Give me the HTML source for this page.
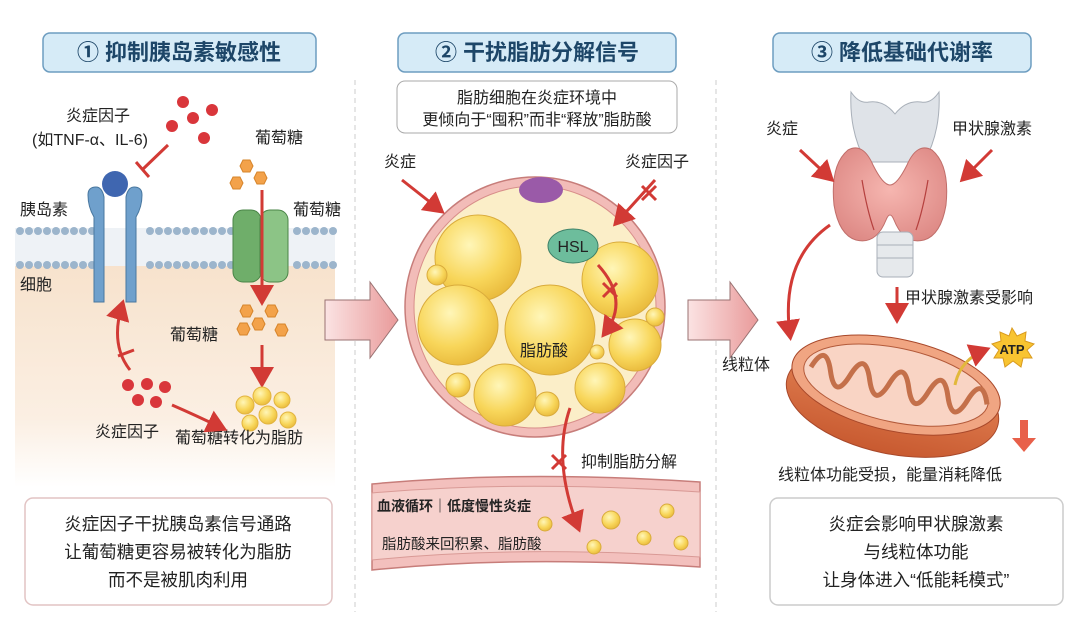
<!DOCTYPE html>
<html><head><meta charset="utf-8"><style>
html,body{margin:0;padding:0;background:#fff;}
svg{display:block;}
text{font-family:"Liberation Sans","Noto Sans CJK SC",sans-serif;fill:#222;}
.t{font-size:16px;}
.ti{font-size:22px;font-weight:bold;fill:#1d4668;}
.b{font-size:17.5px;}
</style></head><body>
<svg width="1080" height="624" viewBox="0 0 1080 624" xmlns="http://www.w3.org/2000/svg">
<defs>
<marker id="ar" markerWidth="8" markerHeight="8" refX="5" refY="4" orient="auto" markerUnits="strokeWidth"><path d="M0,0 L7,4 L0,8 Z" fill="#d23a35"/></marker>
<radialGradient id="fat" cx="0.4" cy="0.35" r="0.7"><stop offset="0" stop-color="#fff6b8"/><stop offset="0.6" stop-color="#f8d65a"/><stop offset="1" stop-color="#e8b83a"/></radialGradient>
<linearGradient id="cell" x1="0" y1="0" x2="0" y2="1"><stop offset="0" stop-color="#f7e2cc"/><stop offset="0.7" stop-color="#fbefe3"/><stop offset="1" stop-color="#ffffff"/></linearGradient>
<linearGradient id="bigar" x1="0" y1="0" x2="1" y2="0"><stop offset="0" stop-color="#fbe3e3"/><stop offset="1" stop-color="#e99a9a"/></linearGradient>
<radialGradient id="thy" cx="0.5" cy="0.45" r="0.6"><stop offset="0" stop-color="#f6b6b0"/><stop offset="1" stop-color="#de8a86"/></radialGradient>
<linearGradient id="mito" x1="0" y1="0" x2="0" y2="1"><stop offset="0" stop-color="#e88a5c"/><stop offset="1" stop-color="#c85a30"/></linearGradient>
</defs>

<line x1="355" y1="80" x2="355" y2="612" stroke="#ccc" stroke-dasharray="5,4"/>
<line x1="716" y1="80" x2="716" y2="612" stroke="#ccc" stroke-dasharray="5,4"/>

<rect x="43" y="33" width="273" height="39" rx="7" fill="#d6ebf7" stroke="#6d9dc0" stroke-width="1.5"/>
<text x="179" y="60" class="ti" text-anchor="middle">① 抑制胰岛素敏感性</text>
<rect x="398" y="33" width="278" height="39" rx="7" fill="#d6ebf7" stroke="#6d9dc0" stroke-width="1.5"/>
<text x="537" y="60" class="ti" text-anchor="middle">② 干扰脂肪分解信号</text>
<rect x="773" y="33" width="258" height="39" rx="7" fill="#d6ebf7" stroke="#6d9dc0" stroke-width="1.5"/>
<text x="902" y="60" class="ti" text-anchor="middle">③ 降低基础代谢率</text>

<!-- PANEL 1 -->
<rect x="15" y="262" width="320" height="225" fill="url(#cell)"/>
<rect x="15" y="228" width="320" height="38" fill="#eef2f6"/>
<g fill="#9cb5cc">
<circle cx="20" cy="231" r="4"/><circle cx="29" cy="231" r="4"/><circle cx="38" cy="231" r="4"/><circle cx="47" cy="231" r="4"/><circle cx="56" cy="231" r="4"/><circle cx="65" cy="231" r="4"/><circle cx="74" cy="231" r="4"/><circle cx="83" cy="231" r="4"/><circle cx="92" cy="231" r="4"/><circle cx="150" cy="231" r="4"/><circle cx="159" cy="231" r="4"/><circle cx="168" cy="231" r="4"/><circle cx="177" cy="231" r="4"/><circle cx="186" cy="231" r="4"/><circle cx="195" cy="231" r="4"/><circle cx="204" cy="231" r="4"/><circle cx="213" cy="231" r="4"/><circle cx="222" cy="231" r="4"/><circle cx="231" cy="231" r="4"/><circle cx="297" cy="231" r="4"/><circle cx="306" cy="231" r="4"/><circle cx="315" cy="231" r="4"/><circle cx="324" cy="231" r="4"/><circle cx="333" cy="231" r="4"/>
<circle cx="20" cy="265" r="4"/><circle cx="29" cy="265" r="4"/><circle cx="38" cy="265" r="4"/><circle cx="47" cy="265" r="4"/><circle cx="56" cy="265" r="4"/><circle cx="65" cy="265" r="4"/><circle cx="74" cy="265" r="4"/><circle cx="83" cy="265" r="4"/><circle cx="92" cy="265" r="4"/><circle cx="150" cy="265" r="4"/><circle cx="159" cy="265" r="4"/><circle cx="168" cy="265" r="4"/><circle cx="177" cy="265" r="4"/><circle cx="186" cy="265" r="4"/><circle cx="195" cy="265" r="4"/><circle cx="204" cy="265" r="4"/><circle cx="213" cy="265" r="4"/><circle cx="222" cy="265" r="4"/><circle cx="231" cy="265" r="4"/><circle cx="297" cy="265" r="4"/><circle cx="306" cy="265" r="4"/><circle cx="315" cy="265" r="4"/><circle cx="324" cy="265" r="4"/><circle cx="333" cy="265" r="4"/>
</g>
<circle cx="115" cy="184" r="13" fill="#3f66b0"/>
<path d="M88,195 q0,-8 8,-8 q6,0 8,10 v105 h-10 v-85 q-6,-10 -6,-22z" fill="#6fa0cc" stroke="#48779f"/>
<path d="M142,195 q0,-8 -8,-8 q-6,0 -8,10 v105 h10 v-85 q6,-10 6,-22z" fill="#6fa0cc" stroke="#48779f"/>
<line x1="168" y1="145" x2="142" y2="170" stroke="#d23a35" stroke-width="3"/>
<line x1="136" y1="162" x2="149" y2="177" stroke="#d23a35" stroke-width="3"/>
<g fill="#d9363b"><circle cx="183" cy="102" r="6"/><circle cx="212" cy="110" r="6"/><circle cx="193" cy="118" r="6"/><circle cx="172" cy="126" r="6"/><circle cx="204" cy="138" r="6"/></g>
<text x="98" y="121" class="t" text-anchor="middle">炎症因子</text>
<text x="90" y="145" class="t" text-anchor="middle">(如TNF-α、IL-6)</text>
<text x="20" y="215" class="t">胰岛素</text>
<text x="20" y="290" class="t">细胞</text>
<text x="255" y="143" class="t">葡萄糖</text>
<text x="293" y="215" class="t">葡萄糖</text>
<g fill="#f3a24a" stroke="#d6842a">
<polygon points="243,160 250,160 253,166 250,172 243,172 240,166"/>
<polygon points="257,172 264,172 267,178 264,184 257,184 254,178"/>
<polygon points="233,177 240,177 243,183 240,189 233,189 230,183"/>
<polygon points="243,305 250,305 253,311 250,317 243,317 240,311"/>
<polygon points="255,318 262,318 265,324 262,330 255,330 252,324"/>
<polygon points="268,305 275,305 278,311 275,317 268,317 265,311"/>
<polygon points="240,323 247,323 250,329 247,335 240,335 237,329"/>
<polygon points="278,324 285,324 288,330 285,336 278,336 275,330"/>
</g>
<rect x="233" y="210" width="28" height="72" rx="10" fill="#6fae6a" stroke="#4a8447"/>
<rect x="260" y="210" width="28" height="72" rx="10" fill="#8cc486" stroke="#4a8447"/>
<line x1="262" y1="190" x2="262" y2="300" stroke="#d23a35" stroke-width="3" marker-end="url(#ar)"/>
<line x1="262" y1="345" x2="262" y2="382" stroke="#d23a35" stroke-width="3" marker-end="url(#ar)"/>
<text x="170" y="340" class="t">葡萄糖</text>
<g fill="url(#fat)" stroke="#e2b440"><circle cx="245" cy="405" r="9"/><circle cx="262" cy="396" r="9"/><circle cx="282" cy="400" r="8"/><circle cx="268" cy="415" r="9"/><circle cx="288" cy="420" r="8"/><circle cx="250" cy="423" r="8"/></g>
<text x="175" y="443" class="t">葡萄糖转化为脂肪</text>
<g fill="#d9363b"><circle cx="128" cy="385" r="6"/><circle cx="147" cy="384" r="6"/><circle cx="165" cy="387" r="6"/><circle cx="138" cy="400" r="6"/><circle cx="156" cy="402" r="6"/></g>
<path d="M130,370 Q110,345 122,305" fill="none" stroke="#d23a35" stroke-width="3" marker-end="url(#ar)"/>
<line x1="118" y1="356" x2="134" y2="350" stroke="#d23a35" stroke-width="3"/>
<path d="M172,405 Q195,415 222,428" fill="none" stroke="#d23a35" stroke-width="3" marker-end="url(#ar)"/>
<text x="95" y="437" class="t">炎症因子</text>
<rect x="25" y="498" width="307" height="107" rx="8" fill="#fff" stroke="#e2c4c4" stroke-width="1.5"/>
<text x="178" y="530" class="b" text-anchor="middle">炎症因子干扰胰岛素信号通路</text>
<text x="178" y="558" class="b" text-anchor="middle">让葡萄糖更容易被转化为脂肪</text>
<text x="178" y="586" class="b" text-anchor="middle">而不是被肌肉利用</text>

<path d="M325,300 h45 v-18 l28,38 l-28,38 v-18 h-45z" fill="url(#bigar)" stroke="#9a7272"/>
<path d="M688,300 h42 v-18 l28,38 l-28,38 v-18 h-42z" fill="url(#bigar)" stroke="#9a7272"/>

<!-- PANEL 2 -->
<rect x="397" y="81" width="280" height="52" rx="8" fill="#fff" stroke="#aaa"/>
<text x="537" y="103" class="t" text-anchor="middle">脂肪细胞在炎症环境中</text>
<text x="537" y="125" class="t" text-anchor="middle">更倾向于“囤积”而非“释放”脂肪酸</text>
<circle cx="535" cy="307" r="130" fill="#f2bcb8" stroke="#c77d7a" stroke-width="1.5"/>
<circle cx="535" cy="307" r="121" fill="#fbeec8" stroke="#d88e8a"/>
<ellipse cx="541" cy="190" rx="22" ry="13" fill="#9a5aa8"/>
<g fill="url(#fat)" stroke="#d9ab3c">
<circle cx="478" cy="258" r="43"/><circle cx="458" cy="325" r="40"/><circle cx="550" cy="330" r="45"/><circle cx="620" cy="280" r="38"/><circle cx="635" cy="345" r="26"/><circle cx="505" cy="395" r="31"/><circle cx="600" cy="388" r="25"/><circle cx="458" cy="385" r="12"/><circle cx="547" cy="404" r="12"/><circle cx="655" cy="317" r="9"/><circle cx="437" cy="275" r="10"/><circle cx="597" cy="352" r="7"/>
</g>
<ellipse cx="573" cy="246" rx="25" ry="17" fill="#6dbd9c" stroke="#3d7f66"/>
<text x="573" y="252" class="t" text-anchor="middle">HSL</text>
<text x="520" y="356" class="t">脂肪酸</text>
<text x="384" y="167" class="t">炎症</text>
<line x1="402" y1="180" x2="440" y2="210" stroke="#d23a35" stroke-width="3" marker-end="url(#ar)"/>
<text x="625" y="167" class="t">炎症因子</text>
<line x1="655" y1="180" x2="617" y2="222" stroke="#d23a35" stroke-width="3" marker-end="url(#ar)"/>
<path d="M642,186 l14,14 M656,186 l-14,14" stroke="#d23a35" stroke-width="3"/>
<path d="M598,265 Q630,300 605,333" fill="none" stroke="#d23a35" stroke-width="3" marker-end="url(#ar)"/>
<path d="M603,283 l14,14 M617,283 l-14,14" stroke="#d23a35" stroke-width="3"/>
<path d="M372,484 Q520,470 700,482 V567 Q520,555 372,570Z" fill="#f3c0bd" stroke="#c77d7a" stroke-width="1.5"/>
<path d="M372,493 Q520,480 700,492 V557 Q520,545 372,560Z" fill="#f6d1cd" stroke="#d99a96"/>
<g fill="url(#fat)" stroke="#d9ab3c"><circle cx="545" cy="524" r="7"/><circle cx="611" cy="520" r="9"/><circle cx="667" cy="511" r="7"/><circle cx="594" cy="547" r="7"/><circle cx="644" cy="538" r="7"/><circle cx="681" cy="543" r="7"/></g>
<text x="377" y="511" style="font-size:14px;font-weight:bold">血液循环｜低度慢性炎症</text>
<text x="382" y="549" style="font-size:14.5px">脂肪酸来回积累、脂肪酸</text>
<path d="M570,408 Q552,460 578,527" fill="none" stroke="#d23a35" stroke-width="3" marker-end="url(#ar)"/>
<path d="M552,455 l14,14 M566,455 l-14,14" stroke="#d23a35" stroke-width="3"/>
<text x="581" y="467" class="t">抑制脂肪分解</text>

<!-- PANEL 3 thyroid -->
<path d="M851,92 q-2,40 15,70 h58 q17,-30 15,-70 q-8,12 -18,10 q-15,-2 -26,12 q-11,-14 -26,-12 q-10,2 -18,-10z" fill="#dfe3e8" stroke="#a8afb8"/>
<path d="M848,150 q-18,15 -14,55 q5,30 22,35 q20,5 30,-20 q4,-10 8,0 q10,25 30,20 q17,-5 22,-35 q4,-40 -14,-55 q-15,-8 -25,15 q-10,20 -17,20 q-7,0 -17,-20 q-10,-23 -25,-15z" fill="url(#thy)" stroke="#c06e6a"/>
<path d="M862,180 q5,30 12,50 M928,180 q-5,30 -12,50" fill="none" stroke="#b5403e" stroke-width="1.2"/>
<rect x="877" y="232" width="36" height="45" rx="6" fill="#e6e9ec" stroke="#a8afb8"/>
<line x1="877" y1="245" x2="913" y2="245" stroke="#a8afb8"/><line x1="877" y1="258" x2="913" y2="258" stroke="#a8afb8"/>
<text x="766" y="134" class="t">炎症</text>
<line x1="800" y1="150" x2="830" y2="178" stroke="#d23a35" stroke-width="3" marker-end="url(#ar)"/>
<text x="952" y="134" class="t">甲状腺激素</text>
<line x1="992" y1="150" x2="964" y2="178" stroke="#d23a35" stroke-width="3" marker-end="url(#ar)"/>
<path d="M830,225 Q780,260 790,335" fill="none" stroke="#d23a35" stroke-width="3" marker-end="url(#ar)"/>
<line x1="897" y1="287" x2="897" y2="318" stroke="#d23a35" stroke-width="3" marker-end="url(#ar)"/>
<text x="905" y="303" class="t">甲状腺激素受影响</text>
<text x="722" y="370" class="t">线粒体</text>
<g transform="rotate(12 895 390)">
<ellipse cx="895" cy="402" rx="108" ry="52" fill="url(#mito)" stroke="#a8482a"/>
<ellipse cx="895" cy="385" rx="106" ry="46" fill="#f0a582" stroke="#a8482a"/>
<ellipse cx="895" cy="385" rx="94" ry="37" fill="#f9d4c4" stroke="#b35a3a"/>
<path d="M808,385 q10,-28 20,0 q10,28 20,0 q10,-28 20,0 q10,28 20,0 q10,-28 20,0 q10,28 20,0 q10,-28 20,0 q10,28 20,0 q10,-28 20,0" fill="none" stroke="#c4704a" stroke-width="5"/>
</g>
<path d="M955,385 Q960,360 985,350" fill="none" stroke="#e2b83a" stroke-width="3" marker-end="url(#ar)"/>
<polygon points="1012,328 1017,336 1026,332 1025,341 1034,344 1027,350 1032,358 1023,358 1021,367 1013,361 1005,367 1003,358 994,358 999,350 992,344 1001,341 1000,332 1009,336" fill="#f8c431" stroke="#d99a1e"/>
<text x="1012" y="354" style="font-size:13px;font-weight:bold" text-anchor="middle">ATP</text>
<path d="M1020,420 v18 h-8 l12,14 l12,-14 h-8 v-18z" fill="#e8604a"/>
<text x="890" y="480" class="t" text-anchor="middle">线粒体功能受损，能量消耗降低</text>
<rect x="770" y="498" width="293" height="107" rx="8" fill="#fff" stroke="#ccc" stroke-width="1.5"/>
<text x="916" y="530" class="b" text-anchor="middle">炎症会影响甲状腺激素</text>
<text x="916" y="558" class="b" text-anchor="middle">与线粒体功能</text>
<text x="916" y="586" class="b" text-anchor="middle">让身体进入“低能耗模式”</text>
</svg>
</body></html>
